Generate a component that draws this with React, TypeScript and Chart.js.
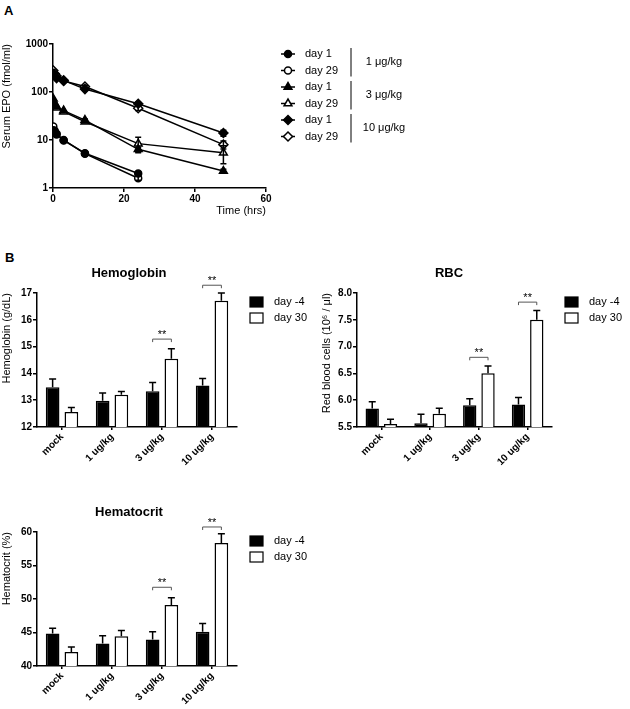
import React, { useEffect, useRef } from "react";
import { Chart, registerables } from "chart.js";
Chart.register(...registerables);

const FONT = "Arial, 'Liberation Sans', Helvetica, sans-serif";
Chart.defaults.font.family = FONT;
Chart.defaults.color = "#000";

// ---------------- Panel A data ----------------
const epoTimes = [0.083, 0.5, 1, 3, 9, 24, 48];
const epoTimes1 = [0.083, 0.5, 1, 3, 9, 24];
const epo1Day1 = [16, 14.5, 13, 9.8, 5.3, 2.0];
const epo1Day29 = [19, 15.5, 13.5, 10, 5.2, 1.6];
const epo3Day1 = [72, 57, 50, 41, 26, 6.4, 2.25];
const epo3Day29 = [63, 54, 47, 39, 24, 8.4, 5.4];
const epo10Day1 = [240, 215, 195, 175, 115, 57, 14];
const epo10Day29 = [280, 240, 215, 170, 130, 46, 8];
const epo1Day1Err = [0, 0, 0, 0, 0.3, 0.15];
const epo1Day29Err = [0, 0, 0, 0, 0.3, 0.15];
const epo3Day1Err = [0, 0, 0, 0, 1.5, 0.7, 0.2];
const epo3Day29Err = [0, 0, 0, 0, 1.5, 3.0, 2.2];
const epo10Day1Err = [0, 0, 0, 0, 8, 4, 2];
const epo10Day29Err = [0, 0, 0, 0, 8, 5, 1.5];
const epoYTicks = [1, 10, 100, 1000];
const epoLegendLabels = ["day 1", "day 29", "day 1", "day 29", "day 1", "day 29"];
const epoDoseLabels = ["1 \u03bcg/kg", "3 \u03bcg/kg", "10 \u03bcg/kg"];

// ---------------- Panel B data ----------------
const groups = ["mock", "1 ug/kg", "3 ug/kg", "10 ug/kg"];
const seriesNames = ["day -4", "day 30"];

const hgbDay4 = [13.48, 12.98, 13.33, 13.55];
const hgbDay4Err = [0.31, 0.29, 0.33, 0.26];
const hgbDay30 = [12.56, 13.2, 14.55, 16.71];
const hgbDay30Err = [0.17, 0.12, 0.37, 0.29];
const hgbBrackets = [
  { index: 2, y: 15.28, label: "**" },
  { index: 3, y: 17.29, label: "**" },
];

const rbcDay4 = [5.845, 5.57, 5.905, 5.92];
const rbcDay4Err = [0.125, 0.17, 0.12, 0.13];
const rbcDay30 = [5.555, 5.745, 6.505, 7.5];
const rbcDay30Err = [0.09, 0.105, 0.135, 0.175];
const rbcBrackets = [
  { index: 2, y: 6.8, label: "**" },
  { index: 3, y: 7.83, label: "**" },
];

const hctDay4 = [44.85, 43.35, 43.95, 45.1];
const hctDay4Err = [0.8, 1.15, 1.15, 1.25];
const hctDay30 = [42.1, 44.45, 49.1, 58.35];
const hctDay30Err = [0.75, 0.85, 1.1, 1.4];
const hctBrackets = [
  { index: 2, y: 51.75, label: "**" },
  { index: 3, y: 60.75, label: "**" },
];

type Style = "circle" | "triangle" | "rectRot";

function drawMarker(ctx: CanvasRenderingContext2D, style: Style, x: number, y: number, r: number, filled: boolean) {
  ctx.save();
  ctx.beginPath();
  if (style === "circle") {
    ctx.arc(x, y, r, 0, Math.PI * 2);
  } else if (style === "triangle") {
    const edge = (3 * r) / Math.sqrt(3);
    const h = (edge * Math.sqrt(3)) / 2;
    ctx.moveTo(x - edge / 2, y + h / 3);
    ctx.lineTo(x + edge / 2, y + h / 3);
    ctx.lineTo(x, y - (2 * h) / 3);
    ctx.closePath();
  } else {
    ctx.moveTo(x, y - r);
    ctx.lineTo(x + r, y);
    ctx.lineTo(x, y + r);
    ctx.lineTo(x - r, y);
    ctx.closePath();
  }
  ctx.fillStyle = filled ? "#000" : "#fff";
  ctx.fill();
  ctx.lineWidth = 1.5;
  ctx.strokeStyle = "#000";
  ctx.stroke();
  ctx.restore();
}

const epoSeries = [
  { t: epoTimes1, v: epo1Day1, e: epo1Day1Err, style: "circle" as Style, filled: true, r: 3.5 },
  { t: epoTimes1, v: epo1Day29, e: epo1Day29Err, style: "circle" as Style, filled: false, r: 3.5 },
  { t: epoTimes, v: epo3Day1, e: epo3Day1Err, style: "triangle" as Style, filled: true, r: 4.5 },
  { t: epoTimes, v: epo3Day29, e: epo3Day29Err, style: "triangle" as Style, filled: false, r: 4.5 },
  { t: epoTimes, v: epo10Day1, e: epo10Day1Err, style: "rectRot" as Style, filled: true, r: 4.5 },
  { t: epoTimes, v: epo10Day29, e: epo10Day29Err, style: "rectRot" as Style, filled: false, r: 4.5 },
];

function axisCommon() {
  return {
    grid: { display: true, drawOnChartArea: false, drawTicks: true, tickLength: 4, color: "#000", lineWidth: 1.5 },
    border: { display: true, color: "#000", width: 1.5 },
  };
}

function makeEpoChart(canvas: HTMLCanvasElement) {
  const W = 630, H = 240;
  const errPlugin = {
    id: "epoDecor",
    afterDatasetsDraw(chart: any) {
      const ctx = chart.ctx as CanvasRenderingContext2D;
      const xs = chart.scales.x, ys = chart.scales.y;
      ctx.save();
      ctx.strokeStyle = "#000";
      ctx.lineWidth = 1.5;
      epoSeries.forEach((s) => {
        s.v.forEach((v, j) => {
          const e = s.e[j];
          if (!e) return;
          const x = xs.getPixelForValue(s.t[j]);
          const y1 = ys.getPixelForValue(v + e);
          const y2 = ys.getPixelForValue(Math.max(v - e, 1));
          ctx.beginPath();
          ctx.moveTo(x, y1); ctx.lineTo(x, y2);
          ctx.moveTo(x - 3, y1); ctx.lineTo(x + 3, y1);
          ctx.moveTo(x - 3, y2); ctx.lineTo(x + 3, y2);
          ctx.stroke();
        });
      });
      ctx.restore();
    },
    afterDraw(chart: any) {
      const ctx = chart.ctx as CanvasRenderingContext2D;
      ctx.save();
      const y0 = 54, dy = 16.5;
      ctx.font = `11px ${FONT}`;
      ctx.textBaseline = "middle";
      ctx.fillStyle = "#000";
      epoSeries.forEach((s, i) => {
        const y = y0 + i * dy;
        ctx.beginPath();
        ctx.strokeStyle = "#000";
        ctx.lineWidth = 1.5;
        ctx.moveTo(281, y); ctx.lineTo(295, y);
        ctx.stroke();
        drawMarker(ctx, s.style, 288, y, s.r, s.filled);
        ctx.textAlign = "left";
        ctx.fillText(epoLegendLabels[i], 305, y);
      });
      epoDoseLabels.forEach((lab, k) => {
        const ya = y0 + 2 * k * dy, yb = ya + dy;
        ctx.beginPath();
        ctx.strokeStyle = "#000";
        ctx.lineWidth = 1;
        ctx.moveTo(351, ya - 6); ctx.lineTo(351, yb + 6);
        ctx.stroke();
        ctx.textAlign = "center";
        ctx.fillText(lab, 384, (ya + yb) / 2);
      });
      ctx.restore();
    },
  };
  return new Chart(canvas, {
    type: "line",
    data: {
      datasets: epoSeries.map((s) => ({
        data: s.t.map((t, j) => ({ x: t, y: s.v[j] })),
        borderColor: "#000",
        borderWidth: 1.5,
        pointStyle: s.style,
        pointRadius: s.r,
        pointBorderWidth: 1.5,
        pointBorderColor: "#000",
        pointBackgroundColor: s.filled ? "#000" : "#fff",
        showLine: true,
        tension: 0,
        fill: false,
      })),
    },
    options: {
      responsive: false,
      animation: false,
      layout: { padding: { top: 44, right: W - 266, left: 0, bottom: H - 188 - 30 } },
      plugins: { legend: { display: false }, tooltip: { enabled: false } },
      scales: {
        x: {
          type: "linear",
          min: 0,
          max: 60,
          ...axisCommon(),
          ticks: { stepSize: 20, color: "#000", font: { family: FONT, size: 10, weight: "bold" }, padding: 1 },
          title: { display: true, text: "Time (hrs)", align: "end", color: "#000", font: { family: FONT, size: 11 }, padding: { top: 1, bottom: 0 } },
          afterFit: (s: any) => { s.height = 30; },
        },
        y: {
          type: "logarithmic",
          min: 1,
          max: 1000,
          ...axisCommon(),
          afterBuildTicks: (s: any) => { s.ticks = epoYTicks.map((v) => ({ value: v })); },
          ticks: { color: "#000", font: { family: FONT, size: 10, weight: "bold" }, padding: 1, callback: (v: any) => String(v) },
          title: { display: true, text: "Serum EPO (fmol/ml)", align: "end", color: "#000", font: { family: FONT, size: 11 }, padding: { top: 0, bottom: 0 } },
          afterFit: (s: any) => { s.width = 53; },
        },
      },
    } as any,
    plugins: [errPlugin],
  });
}

interface BarSpec {
  title: string;
  yTitle: string;
  d4: number[]; e4: number[]; d30: number[]; e30: number[];
  min: number; max: number; step: number; decimals: number;
  brackets: { index: number; y: number; label: string }[];
  top: number; height: number;
}

function makeBarChart(canvas: HTMLCanvasElement, sp: BarSpec) {
  const W = 315, H = sp.height;
  const plugin = {
    id: "barDecor",
    afterDraw(chart: any) {
      const ctx = chart.ctx as CanvasRenderingContext2D;
      const ys = chart.scales.y;
      const area = chart.chartArea;
      ctx.save();
      // error bars (upper only)
      [sp.e4, sp.e30].forEach((errs, di) => {
        const meta = chart.getDatasetMeta(di);
        const vals = di === 0 ? sp.d4 : sp.d30;
        meta.data.forEach((el: any, i: number) => {
          const yt = ys.getPixelForValue(vals[i]);
          const ye = ys.getPixelForValue(vals[i] + errs[i]);
          ctx.beginPath();
          ctx.strokeStyle = "#000";
          ctx.lineWidth = 1.5;
          ctx.moveTo(el.x, yt); ctx.lineTo(el.x, ye);
          ctx.moveTo(el.x - 3.5, ye); ctx.lineTo(el.x + 3.5, ye);
          ctx.stroke();
        });
      });
      // significance brackets
      const m0 = chart.getDatasetMeta(0), m1 = chart.getDatasetMeta(1);
      sp.brackets.forEach((b) => {
        const x1 = m0.data[b.index].x, x2 = m1.data[b.index].x;
        const y = ys.getPixelForValue(b.y);
        ctx.beginPath();
        ctx.strokeStyle = "#555";
        ctx.lineWidth = 1;
        ctx.moveTo(x1, y + 3); ctx.lineTo(x1, y); ctx.lineTo(x2, y); ctx.lineTo(x2, y + 3);
        ctx.stroke();
        ctx.fillStyle = "#000";
        ctx.font = `11px ${FONT}`;
        ctx.textAlign = "center";
        ctx.textBaseline = "alphabetic";
        ctx.fillText(b.label, (x1 + x2) / 2, y - 1);
      });
      // legend
      const lx = area.right + 13;
      [0, 1].forEach((i) => {
        const cy = area.top + 9 + i * 16;
        ctx.fillStyle = i === 0 ? "#000" : "#fff";
        ctx.fillRect(lx, cy - 5, 13, 10);
        ctx.strokeStyle = "#000";
        ctx.lineWidth = 1.2;
        ctx.strokeRect(lx, cy - 5, 13, 10);
        ctx.fillStyle = "#000";
        ctx.font = `11px ${FONT}`;
        ctx.textAlign = "left";
        ctx.textBaseline = "middle";
        ctx.fillText(seriesNames[i], lx + 24, cy);
      });
      // title
      ctx.font = `bold 13px ${FONT}`;
      ctx.textAlign = "center";
      ctx.textBaseline = "middle";
      ctx.fillText(sp.title, 129, area.top - 20);
      ctx.restore();
    },
  };
  return new Chart(canvas, {
    type: "bar",
    data: {
      labels: groups,
      datasets: [
        { label: seriesNames[0], data: sp.d4, backgroundColor: "#000", borderColor: "#000", borderWidth: 1.5, categoryPercentage: 0.75, barPercentage: 0.73 },
        { label: seriesNames[1], data: sp.d30, backgroundColor: "#fff", borderColor: "#000", borderWidth: 1.5, categoryPercentage: 0.75, barPercentage: 0.73 },
      ],
    },
    options: {
      responsive: false,
      animation: false,
      layout: { padding: { top: sp.top, right: W - 237, left: 0, bottom: 0 } },
      plugins: { legend: { display: false }, tooltip: { enabled: false } },
      scales: {
        x: {
          type: "category",
          offset: true,
          grid: { display: true, drawOnChartArea: false, drawTicks: true, offset: false, tickLength: 3, color: "#000", lineWidth: 1.5 },
          border: { display: true, color: "#000", width: 1.5 },
          ticks: { minRotation: 45, maxRotation: 45, color: "#000", font: { family: FONT, size: 10, weight: "bold" }, padding: 1 },
          afterFit: (s: any) => { s.height = H - (sp.top + 134); },
        },
        y: {
          min: sp.min,
          max: sp.max,
          ...axisCommon(),
          ticks: { stepSize: sp.step, color: "#000", font: { family: FONT, size: 10, weight: "bold" }, padding: 1, callback: (v: any) => Number(v).toFixed(sp.decimals) },
          title: { display: true, text: sp.yTitle, align: "end", color: "#000", font: { family: FONT, size: 11 }, padding: { top: 0, bottom: 0 } },
          afterFit: (s: any) => { s.width = 37; },
        },
      },
    } as any,
    plugins: [plugin],
  });
}

function ChartCanvas(props: { left: number; top: number; width: number; height: number; make: (c: HTMLCanvasElement) => Chart }) {
  const ref = useRef<HTMLCanvasElement | null>(null);
  useEffect(() => {
    if (!ref.current) return;
    const ch = props.make(ref.current);
    return () => ch.destroy();
  }, []);
  return (
    <canvas
      ref={ref}
      width={props.width}
      height={props.height}
      style={{ position: "absolute", left: props.left, top: props.top, width: props.width, height: props.height, display: "block" }}
    />
  );
}

export default function App() {
  const letter: React.CSSProperties = { position: "absolute", fontFamily: FONT, fontWeight: "bold", fontSize: 13, lineHeight: "13px", color: "#000" };
  return (
    <div style={{ position: "absolute", left: 0, top: 0, width: 630, height: 709, background: "#fff", overflow: "hidden" }}>
      <div style={{ ...letter, left: 4, top: 4 }}>A</div>
      <div style={{ ...letter, left: 5, top: 251 }}>B</div>
      <ChartCanvas left={0} top={0} width={630} height={240} make={(c) => makeEpoChart(c)} />
      <ChartCanvas
        left={0} top={260} width={315} height={235}
        make={(c) => makeBarChart(c, { title: "Hemoglobin", yTitle: "Hemoglobin (g/dL)", d4: hgbDay4, e4: hgbDay4Err, d30: hgbDay30, e30: hgbDay30Err, min: 12, max: 17, step: 1, decimals: 0, brackets: hgbBrackets, top: 33, height: 235 })}
      />
      <ChartCanvas
        left={320} top={260} width={310} height={235}
        make={(c) => makeBarChart(c, { title: "RBC", yTitle: "Red blood cells (10\u2076 / \u03bcl)", d4: rbcDay4, e4: rbcDay4Err, d30: rbcDay30, e30: rbcDay30Err, min: 5.5, max: 8.0, step: 0.5, decimals: 1, brackets: rbcBrackets, top: 33, height: 235 })}
      />
      <ChartCanvas
        left={0} top={500} width={315} height={209}
        make={(c) => makeBarChart(c, { title: "Hematocrit", yTitle: "Hematocrit (%)", d4: hctDay4, e4: hctDay4Err, d30: hctDay30, e30: hctDay30Err, min: 40, max: 60, step: 5, decimals: 0, brackets: hctBrackets, top: 32, height: 209 })}
      />
    </div>
  );
}
